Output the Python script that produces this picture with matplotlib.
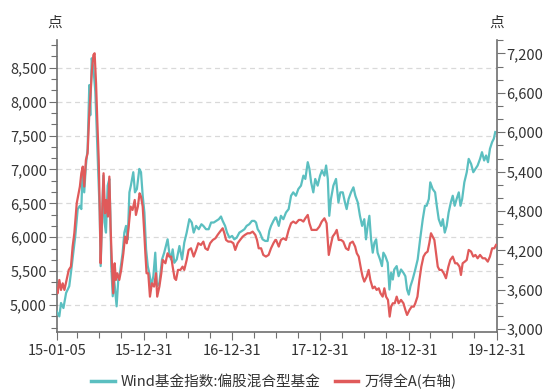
import matplotlib
matplotlib.use("Agg")
import matplotlib.pyplot as plt
from matplotlib.lines import Line2D
from matplotlib.ticker import MultipleLocator, FixedLocator, FuncFormatter
import pandas as pd

plt.rcParams['font.family'] = ['Noto Sans CJK SC', 'DejaVu Sans']

# ---------------- data ----------------
fund_dates = [
    "2015-01-05", "2015-01-16", "2015-01-23", "2015-02-02", "2015-02-13", "2015-02-26", "2015-03-05",
    "2015-03-15", "2015-03-23", "2015-04-02", "2015-04-11", "2015-04-17", "2015-04-22", "2015-04-29",
    "2015-05-06", "2015-05-13", "2015-05-20", "2015-05-24", "2015-05-30", "2015-06-06", "2015-06-14",
    "2015-06-19", "2015-06-26", "2015-07-02", "2015-07-06", "2015-07-11", "2015-07-17", "2015-07-22",
    "2015-07-28", "2015-08-04", "2015-08-11", "2015-08-15", "2015-08-19", "2015-08-25", "2015-08-31",
    "2015-09-10", "2015-09-17", "2015-09-24", "2015-10-05", "2015-10-12", "2015-10-19", "2015-10-26",
    "2015-11-02", "2015-11-08", "2015-11-18", "2015-11-25", "2015-12-03", "2015-12-13", "2015-12-20",
    "2015-12-27", "2016-01-03", "2016-01-10", "2016-01-17", "2016-01-23", "2016-02-01", "2016-02-09",
    "2016-02-17", "2016-02-24", "2016-03-05", "2016-03-16", "2016-03-25", "2016-04-08", "2016-04-15",
    "2016-04-22", "2016-04-29", "2016-05-06", "2016-05-16", "2016-05-27", "2016-06-07", "2016-06-16",
    "2016-06-26", "2016-07-07", "2016-07-17", "2016-07-25", "2016-08-04", "2016-08-15", "2016-08-26",
    "2016-09-03", "2016-09-14", "2016-09-25", "2016-10-05", "2016-10-16", "2016-10-26", "2016-11-06",
    "2016-11-15", "2016-11-22", "2016-12-02", "2016-12-10", "2016-12-20", "2016-12-31", "2017-01-09",
    "2017-01-19", "2017-01-30", "2017-02-10", "2017-02-20", "2017-03-01", "2017-03-12", "2017-03-23",
    "2017-04-02", "2017-04-09", "2017-04-16", "2017-04-25", "2017-05-06", "2017-05-17", "2017-05-27",
    "2017-06-03", "2017-06-10", "2017-06-20", "2017-06-28",
    "2017-07-01", "2017-07-12", "2017-07-21", "2017-07-31", "2017-08-11", "2017-08-22", "2017-09-01",
    "2017-09-10", "2017-09-21", "2017-10-01", "2017-10-12", "2017-10-22", "2017-10-30", "2017-11-09",
    "2017-11-16", "2017-11-23", "2017-12-02", "2017-12-10", "2017-12-20", "2017-12-30", "2018-01-07",
    "2018-01-17", "2018-01-24", "2018-01-31", "2018-02-06", "2018-02-13", "2018-02-23", "2018-03-06",
    "2018-03-16", "2018-03-24", "2018-04-03", "2018-04-12", "2018-04-19", "2018-04-27", "2018-05-07",
    "2018-05-17", "2018-05-25", "2018-06-04", "2018-06-13", "2018-06-22", "2018-07-01", "2018-07-08",
    "2018-07-15", "2018-07-22", "2018-07-29", "2018-08-05", "2018-08-12", "2018-08-19", "2018-08-25",
    "2018-09-04", "2018-09-12", "2018-09-18", "2018-09-26", "2018-10-06", "2018-10-13", "2018-10-20",
    "2018-10-27", "2018-11-02", "2018-11-12", "2018-11-20", "2018-11-30", "2018-12-10", "2018-12-18",
    "2018-12-25", "2019-01-01", "2019-01-08", "2019-01-17", "2019-01-28", "2019-02-07", "2019-02-17",
    "2019-02-28", "2019-03-09", "2019-03-16", "2019-03-25", "2019-03-31", "2019-04-10", "2019-04-20",
    "2019-04-27", "2019-05-05", "2019-05-15", "2019-05-22", "2019-05-30", "2019-06-07", "2019-06-15",
    "2019-06-24", "2019-07-02", "2019-07-10", "2019-07-18", "2019-07-27", "2019-08-03", "2019-08-10",
    "2019-08-19", "2019-08-29", "2019-09-06", "2019-09-16", "2019-09-25", "2019-10-04", "2019-10-13",
    "2019-10-23", "2019-10-31", "2019-11-09", "2019-11-17", "2019-11-25", "2019-12-03", "2019-12-12",
    "2019-12-19", "2019-12-25",
]
fund_values = [
    4906, 4832, 5030, 4955, 5178, 5277, 5475,
    5772, 6019, 6415, 6464, 6415, 6959, 6662,
    7058, 7305, 8245, 7799, 8640, 8492, 8146,
    7651, 6959, 6365, 5574, 6167, 6909, 6217,
    6068, 6761, 6860, 6365, 5574, 5129, 5376,
    4980, 5376, 5475, 5772, 6068, 6167, 5969,
    6662, 6761, 6959, 6662, 6711, 7008, 6959,
    6612, 6365, 5821, 5574, 5475, 5277, 5425,
    5772, 5277, 5326, 5673, 5772, 5969, 5772,
    5673, 5821, 5623, 5673, 5870, 5673, 5920,
    6068, 6266, 6217, 6068, 6167, 6118, 6192,
    6167, 6118, 6118, 6217, 6217, 6241, 6266,
    6306, 6241, 6167, 6068, 5994, 6019, 5969,
    5994, 6068, 6093, 6118, 6167, 6192, 6241,
    6241, 6217, 6118, 6068, 5969, 5945, 5945,
    6093, 6167, 6241, 6291,
    6291, 6167, 6316, 6266, 6365, 6415, 6612,
    6662, 6612, 6711, 6761, 6909, 6860, 7107,
    7008, 6810, 6662, 6860, 6761, 6909, 6983,
    6909, 7058, 6860, 6316, 6563, 6761, 6860,
    6513, 6662, 6662, 6513, 6415, 6563, 6662,
    6736, 6612, 6513, 6316, 6167, 6266, 5969,
    6167, 6316, 5969, 5772, 5920, 5969, 5772,
    5673, 5574, 5772, 5722, 5623, 5228, 5475,
    5376, 5524, 5574, 5425, 5524, 5475, 5425,
    5228, 5153, 5277, 5376, 5524, 5673, 5969,
    6266, 6464, 6464, 6563, 6810, 6711, 6662,
    6464, 6266, 6167, 6266, 6068, 6167, 6365,
    6513, 6612, 6464, 6563, 6662, 6464, 6563,
    6810, 6959, 7156, 7082, 6959, 7008, 7058,
    7156, 7255, 7132, 7206, 7107, 7305, 7404,
    7453, 7552,
]

wind_dates = [
    "2015-01-05", "2015-01-09", "2015-01-16", "2015-01-23", "2015-01-30", "2015-02-06", "2015-02-15",
    "2015-02-24", "2015-03-05", "2015-03-12", "2015-03-19", "2015-03-29", "2015-04-06", "2015-04-11",
    "2015-04-17", "2015-04-23", "2015-04-29", "2015-05-06", "2015-05-13", "2015-05-20", "2015-05-26",
    "2015-05-31", "2015-06-06", "2015-06-11", "2015-06-17", "2015-06-22", "2015-06-28", "2015-07-02",
    "2015-07-06", "2015-07-11", "2015-07-18", "2015-07-24", "2015-07-29", "2015-08-05", "2015-08-11",
    "2015-08-16", "2015-08-21", "2015-08-27", "2015-09-02", "2015-09-07", "2015-09-13", "2015-09-21",
    "2015-09-29", "2015-10-08", "2015-10-15", "2015-10-22", "2015-10-30", "2015-11-07", "2015-11-15",
    "2015-11-24", "2015-11-29", "2015-12-07", "2015-12-14", "2015-12-20", "2015-12-27", "2016-01-01",
    "2016-01-07", "2016-01-12", "2016-01-19", "2016-01-26", "2016-02-03", "2016-02-12", "2016-02-20",
    "2016-02-25", "2016-03-05", "2016-03-13", "2016-03-19", "2016-03-30", "2016-04-08", "2016-04-15",
    "2016-04-23", "2016-04-29", "2016-05-07", "2016-05-13", "2016-05-21", "2016-05-31", "2016-06-09",
    "2016-06-16", "2016-06-26", "2016-07-04", "2016-07-14", "2016-07-25", "2016-08-04", "2016-08-13",
    "2016-08-24", "2016-09-03", "2016-09-11", "2016-09-21", "2016-10-01", "2016-10-12", "2016-10-23",
    "2016-11-01", "2016-11-11", "2016-11-22", "2016-11-29", "2016-12-06", "2016-12-15", "2016-12-26",
    "2017-01-05", "2017-01-13", "2017-01-23", "2017-02-02", "2017-02-13", "2017-02-22", "2017-03-05",
    "2017-03-15", "2017-03-26", "2017-04-06", "2017-04-13", "2017-04-20", "2017-04-30", "2017-05-09",
    "2017-05-20", "2017-05-31", "2017-06-10", "2017-06-20", "2017-06-28",
    "2017-07-01", "2017-07-12", "2017-07-21", "2017-07-31", "2017-08-11", "2017-08-22", "2017-09-01",
    "2017-09-10", "2017-09-21", "2017-10-03", "2017-10-12", "2017-10-22", "2017-10-30", "2017-11-09",
    "2017-11-16", "2017-11-25", "2017-12-06", "2017-12-16", "2017-12-27", "2018-01-06", "2018-01-17",
    "2018-01-26", "2018-02-04", "2018-02-11", "2018-02-20", "2018-03-02", "2018-03-09", "2018-03-17",
    "2018-03-27", "2018-04-05", "2018-04-16", "2018-04-26", "2018-05-03", "2018-05-14", "2018-05-24",
    "2018-05-31", "2018-06-08", "2018-06-18", "2018-06-24", "2018-07-01", "2018-07-11", "2018-07-19",
    "2018-07-26", "2018-08-05", "2018-08-13", "2018-08-21", "2018-08-30", "2018-09-06", "2018-09-15",
    "2018-09-22", "2018-09-29", "2018-10-07", "2018-10-14", "2018-10-20", "2018-10-27", "2018-11-04",
    "2018-11-12", "2018-11-20", "2018-11-30", "2018-12-10", "2018-12-18", "2018-12-25", "2019-01-04",
    "2019-01-13", "2019-01-22", "2019-01-28", "2019-02-06", "2019-02-14", "2019-02-22", "2019-03-03",
    "2019-03-11", "2019-03-20", "2019-03-27", "2019-04-03", "2019-04-10", "2019-04-17", "2019-04-24",
    "2019-05-01", "2019-05-08", "2019-05-17", "2019-05-26", "2019-06-04", "2019-06-14", "2019-06-22",
    "2019-07-02", "2019-07-12", "2019-07-20", "2019-07-30", "2019-08-05", "2019-08-12", "2019-08-21",
    "2019-08-29", "2019-09-06", "2019-09-16", "2019-09-25", "2019-10-04", "2019-10-13", "2019-10-23",
    "2019-11-03", "2019-11-13", "2019-11-24", "2019-12-03", "2019-12-12", "2019-12-21", "2019-12-28",
]
wind_values = [
    3624, 3548, 3751, 3599, 3700, 3599, 3751,
    3904, 3954, 4259, 4462, 4919, 5071, 5173,
    5376, 5477, 5173, 5579, 5680, 6289, 6645,
    6949, 7178, 7203, 6746, 6188, 5579, 4868,
    4005, 4614, 5376, 4766, 4969, 4716, 5325,
    4563, 4056, 3548, 4005, 3751, 3853, 3751,
    3904, 4157, 4411, 4310, 4563, 4868, 4817,
    4969, 4741, 4868, 5071, 5020, 4868, 4563,
    4157, 3853, 3853, 3497, 3700, 3650, 3853,
    3497, 3650, 3853, 4056, 4005, 4157, 4107,
    4107, 3954, 3777, 3751, 3904, 3904, 3954,
    3904, 4056, 4208, 4233, 4107, 4208, 4310,
    4284, 4335, 4233, 4208, 4310, 4360, 4386,
    4437, 4487, 4538, 4462, 4360, 4335, 4335,
    4310, 4208, 4310, 4360, 4411, 4437, 4462,
    4462, 4487, 4437, 4360, 4233, 4233, 4132,
    4107, 4132, 4233, 4310, 4360,
    4360, 4259, 4360, 4386, 4360, 4513, 4614,
    4640, 4614, 4665, 4665, 4640, 4690, 4741,
    4614, 4513, 4513, 4513, 4563, 4640, 4690,
    4614, 4132, 4259, 4411, 4462, 4513, 4360,
    4360, 4335, 4233, 4208, 4310, 4335, 4259,
    4157, 4107, 3904, 3802, 3726, 3802, 3904,
    3751, 3624, 3650, 3599, 3624, 3548, 3497,
    3624, 3497, 3447, 3193, 3345, 3396, 3396,
    3497, 3396, 3447, 3396, 3294, 3218, 3294,
    3345, 3345, 3396, 3497, 3751, 3954, 4107,
    4157, 4183, 4310, 4462, 4411, 4360, 4157,
    3954, 3904, 3904, 3853, 3777, 3954, 4056,
    4107, 4005, 4005, 3954, 3827, 4005, 4030,
    4056, 4208, 4183, 4107, 4132, 4081, 4132,
    4081, 4081, 4030, 4107, 4233, 4233, 4284,
]

fund_name = "Wind基金指数:偏股混合型基金"
wind_name = "万得全A(右轴)"
unit_label = "点"

x_tick_dates = ["2015-01-05", "2015-12-31", "2016-12-31", "2017-12-31", "2018-12-31", "2019-12-31"]
x_tick_labels = ["15-01-05", "15-12-31", "16-12-31", "17-12-31", "18-12-31", "19-12-31"]
x_minor_dates = ["2015-03-31", "2015-06-30", "2015-09-30",
                 "2016-03-31", "2016-06-30", "2016-09-30",
                 "2017-03-31", "2017-06-30", "2017-09-30",
                 "2018-03-31", "2018-06-30", "2018-09-30",
                 "2019-03-31", "2019-06-30", "2019-09-30"]
left_ticks = [5000, 5500, 6000, 6500, 7000, 7500, 8000, 8500]
right_ticks = [3000, 3600, 4200, 4800, 5400, 6000, 6600, 7200]

# ---------------- style ----------------
CYAN = "#5bbfc0"
RED = "#e05a5a"
TXT = "#333333"
AXC = "#707070"
FS = 10.5

fig = plt.figure(figsize=(5.54, 3.92), dpi=100)
ax = fig.add_axes([0.1023, 0.1538, 0.7943, 0.7442])
ax2 = ax.twinx()

fd = pd.to_datetime(fund_dates)
wd = pd.to_datetime(wind_dates)

ax.plot(fd, fund_values, color=CYAN, lw=1.6, zorder=3)
ax2.plot(wd, wind_values, color=RED, lw=1.6, zorder=3)

ax.set_xlim(pd.Timestamp("2015-01-05"), pd.Timestamp("2019-12-31"))
ax.set_ylim(4606, 8910)
ax2.set_ylim(2963, 7405)

ax.xaxis.set_major_locator(FixedLocator(matplotlib.dates.date2num(pd.to_datetime(x_tick_dates))))
ax.xaxis.set_minor_locator(FixedLocator(matplotlib.dates.date2num(pd.to_datetime(x_minor_dates))))
ax.set_xticklabels(x_tick_labels)

ax.yaxis.set_major_locator(FixedLocator(left_ticks))
ax.yaxis.set_minor_locator(MultipleLocator(500 / 3))
ax2.yaxis.set_major_locator(FixedLocator(right_ticks))
ax2.yaxis.set_minor_locator(MultipleLocator(200))
fmt = FuncFormatter(lambda v, p: f"{int(round(v)):,}")
ax.yaxis.set_major_formatter(fmt)
ax2.yaxis.set_major_formatter(fmt)

ax.grid(axis="y", which="major", color="#d9d9d9", linestyle=(0, (4, 3)), lw=0.9)
ax.set_axisbelow(True)

for a in (ax, ax2):
    a.spines["top"].set_visible(False)
    for s in ("left", "right", "bottom"):
        a.spines[s].set_color(AXC)
        a.spines[s].set_linewidth(1.2)
    a.tick_params(which="major", length=6, width=0.8, color=AXC, labelsize=FS, labelcolor=TXT, pad=1)
    a.tick_params(which="minor", length=4.5, width=0.8, color=AXC)
ax.tick_params(axis="x", which="major", pad=3)
ax2.spines["left"].set_visible(False)
ax2.spines["bottom"].set_visible(False)
ax.spines["right"].set_visible(False)

fig.text(0.0993, 0.942, unit_label, ha="center", va="center", fontsize=FS, color=TXT)
fig.text(0.8965, 0.942, unit_label, ha="center", va="center", fontsize=FS, color=TXT)

handles = [Line2D([], [], color=CYAN, lw=2.5), Line2D([], [], color=RED, lw=2.5)]
fig.legend(handles, [fund_name, wind_name], loc="center", bbox_to_anchor=(0.494, 0.028),
           ncol=2, frameon=False, fontsize=FS, handlelength=1.6, handletextpad=0.4,
           columnspacing=1.0, labelcolor=TXT)

fig.savefig("out.png", dpi=100)
